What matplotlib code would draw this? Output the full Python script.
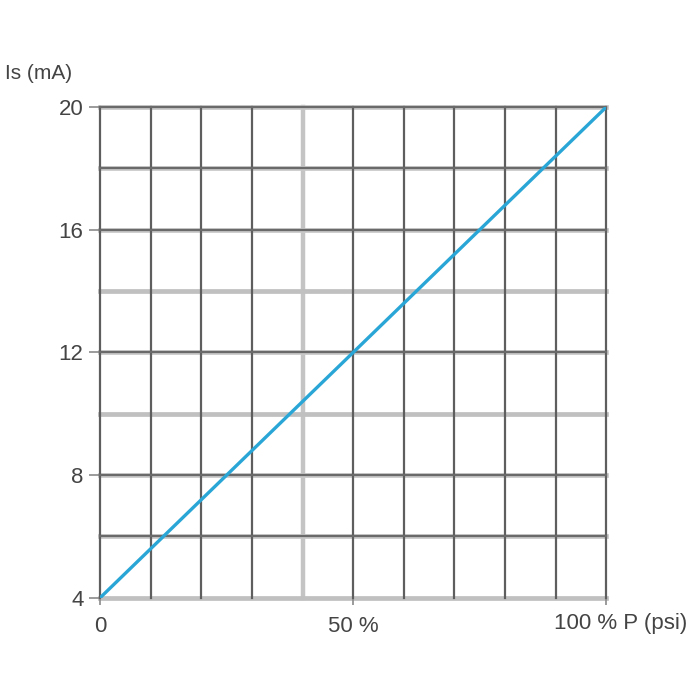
import numpy as np
import matplotlib
matplotlib.use('Agg')
import matplotlib.pyplot as plt

plt.rcParams['font.family'] = ['Liberation Sans', 'DejaVu Sans']

# courbe de sortie du transmetteur
pression_pct = [0, 100]
courant_ma = [4, 20]

x_ticks = [0, 50, 100]
x_labels = ['0', '50 %', '']
y_ticks = [4, 8, 12, 16, 20]

x_grid = np.arange(0, 101, 10)
y_grid = np.arange(4, 21, 2)
x_light = [40]
y_light = [4, 10, 14]

fig = plt.figure(figsize=(7, 7), dpi=100)
ax = fig.add_axes([0.143, 0.146, 0.723, 0.701])

for xv in x_grid:
    if xv in x_light:
        ax.axvline(xv, color='#c4c4c4', lw=3.2, zorder=1, clip_on=False)
    else:
        ax.axvline(xv, color='#5e5e5e', lw=1.6, zorder=2, clip_on=False)
for yv in y_grid:
    if yv in y_light:
        ax.axhline(yv, color='#c0c0c0', lw=3.4, zorder=1, clip_on=False)
    else:
        ax.axhline(yv, color='#c8c8c8', lw=3.4, zorder=1, clip_on=False)
        ax.axhline(yv, color='#6a6a6a', lw=1.6, zorder=2, clip_on=False)

ax.plot(pression_pct, courant_ma, color='#2aa6d6', lw=2.4, zorder=3,
        solid_capstyle='butt')

ax.set_xlim(0, 100)
ax.set_ylim(4, 20)
for s in ax.spines.values():
    s.set_visible(False)

ax.set_xticks(x_ticks)
ax.set_xticklabels(x_labels)
ax.set_yticks(y_ticks)
ax.tick_params(axis='y', length=8, width=1.2, color='#8a8a8a', pad=4,
               labelsize=16, labelcolor='#444444')
ax.tick_params(axis='x', length=5, width=1.2, color='#8a8a8a', pad=8,
               labelsize=16, labelcolor='#444444')

ax.annotate('100 % P (psi)', xy=(102.8, 0), xycoords=('data', 'axes fraction'),
            xytext=(0, -11), textcoords='offset points', ha='center', va='top',
            fontsize=16, color='#444444', annotation_clip=False)
fig.text(0.007, 0.895, 'Is (mA)', fontsize=15, color='#444444', va='center')

plt.savefig('out.png', dpi=100)
